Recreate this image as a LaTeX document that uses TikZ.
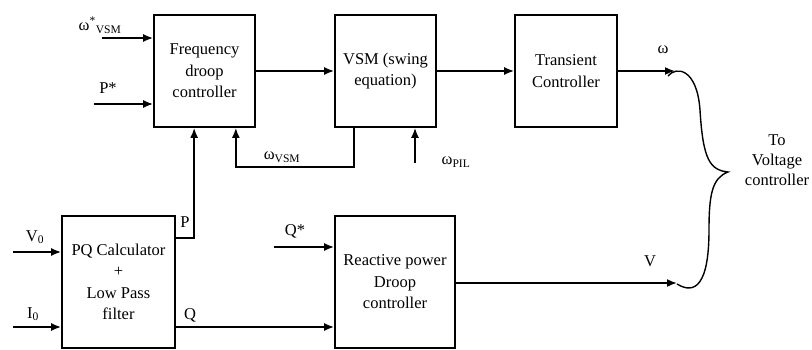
\documentclass[tikz,border=0pt]{standalone}
\usepackage{fontspec}
\setmainfont{Liberation Serif}
\usetikzlibrary{arrows.meta, calc}

\tikzset{
  blk/.style={draw, line width=1.7pt, align=center, minimum width=101pt, minimum height=112pt,
    inner sep=2pt, font=\fontsize{16.5}{21.5}\selectfont},
  sig/.style={line width=1.7pt, -{Latex[length=10pt,width=8pt]}},
  lbl/.style={font=\fontsize{16.5}{20}\selectfont, inner sep=0pt},
}

\begin{document}
\begin{tikzpicture}[x=1pt, y=-1pt]
  \useasboundingbox (0,0) rectangle (812,350);

  % upper row of blocks
  \node[blk] (freq) at (204.5,71) {Frequency\\droop\\controller};
  \node[blk] (vsm) at (385.5,71) {VSM (swing\\equation)};
  \node[blk, minimum width=102pt] (trans) at (566,71) {Transient\\Controller};

  % lower row of blocks
  \node[blk, minimum width=113pt, minimum height=132pt] (pq) at (118.5,282) {PQ Calculator\\+\\Low Pass\\filter};
  \node[blk, minimum width=120pt, minimum height=132pt] (rpd) at (395,282) {Reactive power\\Droop\\controller};

  % free ends
  \coordinate (wref) at (102,38);
  \coordinate (pref) at (94,104);
  \coordinate (v0in) at (13,252);
  \coordinate (i0in) at (13,327);
  \coordinate (qref) at (274,247);
  \coordinate (wpil) at (415,163);
  \coordinate (wout) at (675,71);
  \coordinate (vout) at (677,283);

  % signals
  \draw[sig] (wref) -- (wref -| freq.west);
  \draw[sig] (pref) -- (pref -| freq.west);
  \draw[sig] (freq) -- (vsm);
  \draw[sig] (vsm) -- (trans);
  \draw[sig] (trans) -- (wout);
  \draw[sig] ($(vsm.south west)+(20,0)$) -- ++(0,39) -| ($(freq.south east)+(-20,0)$);
  \draw[sig] (wpil) -- (wpil |- vsm.south);
  \draw[sig] (pq.east |- 0,238) -| ($(freq.south west)+(41,0)$);
  \draw[sig] (v0in) -- (v0in -| pq.west);
  \draw[sig] (i0in) -- (i0in -| pq.west);
  \draw[sig] (pq.east |- i0in) -- (rpd.west |- i0in);
  \draw[sig] (qref) -- (qref -| rpd.west);
  \draw[sig] (rpd.east |- vout) -- (vout);

  % brace to the voltage controller
  \draw[line width=1.4pt] (668,76) .. controls (676,66) and (697,68) .. (700,110)
    .. controls (703,160) and (710,170) .. (728,172)
    .. controls (712,178) and (709,195) .. (709,230)
    .. controls (709,285) and (695,295) .. (677,284);

  % labels
  \node[lbl] (lwref) at (100,25) {ω\textsuperscript{*}\textsubscript{VSM}};
  \node[lbl] (lpref) at (108,88) {P*};
  \node[lbl] (lwvsm) at (282,157) {ω\textsubscript{VSM}};
  \node[lbl] (lwpil) at (456,162) {ω\textsubscript{PIL}};
  \node[lbl] (lw) at (663,50) {ω};
  \node[lbl] (lv) at (650,261) {V};
  \node[lbl] (lv0) at (35,237) {V\textsubscript{0}};
  \node[lbl] (li0) at (33,314) {I\textsubscript{0}};
  \node[lbl] (lp) at (185,222) {P};
  \node[lbl] (lq) at (190,315) {Q};
  \node[lbl] (lqref) at (295,231) {Q*};
  \node[lbl, align=center] (lto) at (777,160) {To\\Voltage\\controller};
\end{tikzpicture}
\end{document}
